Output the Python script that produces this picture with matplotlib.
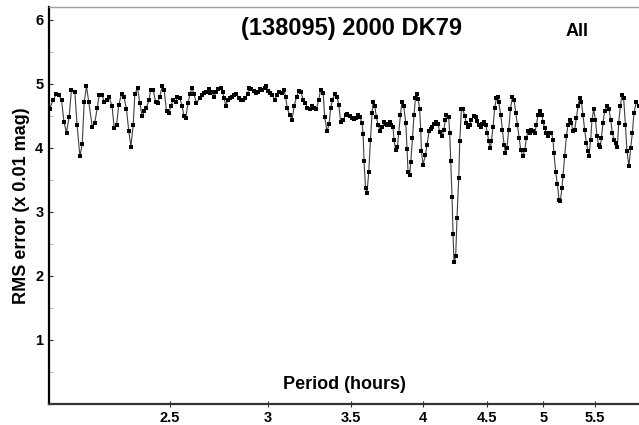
import numpy as np
import matplotlib.pyplot as plt
from matplotlib.ticker import FixedLocator, NullLocator, MultipleLocator

plt.rcParams['font.family'] = ['Liberation Sans', 'DejaVu Sans']
plt.rcParams['font.weight'] = 'bold'

# Period (hours) vs RMS error (x 0.01 mag)
period = [
    2.001, 2.013, 2.026, 2.035, 2.045, 2.054, 2.064, 2.074, 2.083, 2.096,
    2.105, 2.116, 2.125, 2.133, 2.142, 2.151, 2.165, 2.175, 2.185, 2.193,
    2.205, 2.213, 2.226, 2.234, 2.246, 2.255, 2.265, 2.274, 2.286, 2.297,
    2.307, 2.317, 2.326, 2.336, 2.343, 2.355, 2.365, 2.375, 2.384, 2.394,
    2.405, 2.413, 2.424, 2.435, 2.444, 2.454, 2.465, 2.474, 2.485, 2.495,
    2.505, 2.515, 2.527, 2.536, 2.547, 2.558, 2.567, 2.575, 2.586, 2.595,
    2.606, 2.614, 2.627, 2.643, 2.654, 2.664, 2.676, 2.688, 2.696, 2.704,
    2.714, 2.723, 2.734, 2.747, 2.757, 2.765, 2.774, 2.783, 2.794, 2.806,
    2.817, 2.829, 2.842, 2.852, 2.864, 2.877, 2.888, 2.896, 2.909, 2.922,
    2.933, 2.945, 2.958, 2.969, 2.982, 2.991, 3.000, 3.010, 3.025, 3.038,
    3.051, 3.062, 3.076, 3.089, 3.100, 3.108, 3.123, 3.137, 3.149, 3.163,
    3.176, 3.188, 3.202, 3.216, 3.228, 3.242, 3.255, 3.268, 3.282, 3.296,
    3.308, 3.323, 3.333, 3.347, 3.360, 3.370, 3.381, 3.396, 3.410, 3.421,
    3.433, 3.448, 3.466, 3.476, 3.491, 3.506, 3.519, 3.535, 3.545, 3.557,
    3.572, 3.579, 3.585, 3.595, 3.605, 3.617, 3.628, 3.639, 3.646, 3.657,
    3.669, 3.679, 3.696, 3.710, 3.721, 3.732, 3.744, 3.760, 3.772, 3.783,
    3.790, 3.802, 3.814, 3.823, 3.836, 3.847, 3.859, 3.874, 3.883, 3.890,
    3.902, 3.910, 3.922, 3.934, 3.944, 3.956, 3.963, 3.975, 3.983, 3.988,
    4.000, 4.018, 4.030, 4.045, 4.057, 4.070, 4.082, 4.101, 4.113, 4.126,
    4.143, 4.157, 4.170, 4.177, 4.195, 4.203, 4.211, 4.221, 4.229, 4.237,
    4.250, 4.260, 4.274, 4.282, 4.295, 4.308, 4.322, 4.335, 4.348, 4.362,
    4.376, 4.394, 4.411, 4.425, 4.438, 4.452, 4.466, 4.479, 4.493, 4.508,
    4.518, 4.533, 4.541, 4.555, 4.569, 4.583, 4.597, 4.603, 4.620, 4.635,
    4.649, 4.661, 4.674, 4.689, 4.704, 4.722, 4.736, 4.751, 4.765, 4.780,
    4.795, 4.815, 4.831, 4.846, 4.860, 4.875, 4.891, 4.905, 4.921, 4.937,
    4.951, 4.973, 4.988, 4.997, 5.013, 5.029, 5.044, 5.060, 5.076, 5.091,
    5.100, 5.116, 5.133, 5.148, 5.161, 5.177, 5.186, 5.203, 5.219, 5.235,
    5.251, 5.268, 5.283, 5.300, 5.317, 5.333, 5.349, 5.366, 5.382, 5.399,
    5.416, 5.432, 5.442, 5.460, 5.473, 5.490, 5.508, 5.524, 5.541, 5.559,
    5.569, 5.586, 5.603, 5.627, 5.648, 5.666, 5.684, 5.701, 5.726, 5.737,
    5.751, 5.769, 5.786, 5.804, 5.823, 5.840, 5.862, 5.880, 5.899, 5.916,
    5.943, 5.968,
]
rms = [
    4.61, 4.75, 4.84, 4.82, 4.75, 4.41, 4.24, 4.48, 4.91, 4.88,
    4.35, 3.87, 4.06, 4.72, 4.96, 4.72, 4.33, 4.39, 4.62, 4.83,
    4.83, 4.72, 4.74, 4.79, 4.65, 4.31, 4.35, 4.67, 4.84, 4.79,
    4.60, 4.26, 4.02, 4.36, 4.84, 4.93, 4.70, 4.49, 4.57, 4.63,
    4.74, 4.91, 4.91, 4.72, 4.70, 4.80, 4.96, 4.91, 4.57, 4.54,
    4.65, 4.74, 4.72, 4.79, 4.78, 4.65, 4.49, 4.47, 4.70, 4.84,
    4.93, 4.84, 4.70, 4.78, 4.82, 4.86, 4.88, 4.92, 4.86, 4.88,
    4.80, 4.87, 4.92, 4.93, 4.88, 4.78, 4.65, 4.75, 4.78, 4.80,
    4.83, 4.84, 4.78, 4.75, 4.74, 4.78, 4.84, 4.93, 4.92, 4.89,
    4.86, 4.88, 4.92, 4.91, 4.94, 4.96, 4.89, 4.86, 4.82, 4.75,
    4.83, 4.88, 4.86, 4.91, 4.80, 4.62, 4.52, 4.44, 4.65, 4.80,
    4.89, 4.88, 4.75, 4.70, 4.62, 4.60, 4.66, 4.62, 4.61, 4.75,
    4.91, 4.86, 4.48, 4.26, 4.37, 4.62, 4.75, 4.84, 4.80, 4.67,
    4.41, 4.44, 4.51, 4.53, 4.49, 4.47, 4.45, 4.47, 4.51, 4.48,
    4.39, 4.21, 3.80, 3.38, 3.30, 3.63, 4.13, 4.54, 4.72, 4.65,
    4.48, 4.36, 4.26, 4.33, 4.40, 4.37, 4.35, 4.41, 4.36, 4.32,
    4.13, 3.97, 4.02, 4.23, 4.52, 4.72, 4.65, 4.39, 3.99, 3.63,
    3.58, 3.78, 4.15, 4.52, 4.78, 4.84, 4.77, 4.60, 4.28, 3.95,
    3.74, 3.89, 4.05, 4.26, 4.30, 4.33, 4.37, 4.40, 4.37, 4.25,
    4.18, 4.28, 4.44, 4.51, 4.48, 4.23, 3.80, 3.24, 2.65, 2.21,
    2.31, 2.90, 3.53, 4.10, 4.60, 4.60, 4.49, 4.39, 4.33, 4.36,
    4.44, 4.49, 4.48, 4.42, 4.36, 4.33, 4.37, 4.41, 4.36, 4.23,
    4.10, 4.00, 4.10, 4.33, 4.62, 4.78, 4.80, 4.72, 4.52, 4.28,
    4.05, 3.92, 4.00, 4.28, 4.60, 4.80, 4.75, 4.55, 4.36, 4.16,
    3.97, 3.87, 3.97, 4.16, 4.26, 4.23, 4.28, 4.26, 4.23, 4.36,
    4.52, 4.57, 4.52, 4.41, 4.31, 4.23, 4.18, 4.23, 4.23, 4.13,
    3.92, 3.63, 3.43, 3.19, 3.17, 3.38, 3.56, 3.87, 4.18, 4.36,
    4.44, 4.39, 4.26, 4.28, 4.47, 4.65, 4.78, 4.72, 4.52, 4.28,
    4.08, 3.95, 3.87, 4.13, 4.44, 4.60, 4.44, 4.18, 4.05, 4.02,
    4.15, 4.39, 4.57, 4.66, 4.61, 4.44, 4.23, 4.13, 4.08, 4.02,
    4.39, 4.65, 4.83, 4.78, 4.36, 3.95, 3.71, 4.00, 4.23, 4.54,
    4.72, 4.65,
]

xticks = [2.5, 3, 3.5, 4, 4.5, 5, 5.5]
xtick_labels = ['2.5', '3', '3.5', '4', '4.5', '5', '5.5']
yticks = [1, 2, 3, 4, 5, 6]

fig = plt.figure(figsize=(6.39, 4.25), dpi=100)
ax = fig.add_axes([49 / 639, 21 / 425, 590 / 639, 397 / 425])

ax.plot(period, rms, color='#404040', lw=0.8, marker='s', markersize=2.3,
        markerfacecolor='black', markeredgecolor='black', markeredgewidth=0)

ax.set_xscale('log')
ax.set_xlim(1.998, 5.972)
ax.set_ylim(0, 6.2)

ax.xaxis.set_major_locator(FixedLocator(xticks))
ax.xaxis.set_minor_locator(NullLocator())
ax.set_xticklabels(xtick_labels)
ax.set_yticks(yticks)
ax.yaxis.set_minor_locator(MultipleLocator(0.5))

ax.tick_params(axis='x', which='major', direction='inout', length=4, width=0.8,
               color='#333333', labelsize=10.5, pad=3)
ax.tick_params(axis='y', which='major', direction='in', length=3, width=0.8,
               color='#333333', labelsize=10.5, pad=4)
ax.tick_params(axis='y', which='minor', direction='in', length=3, width=0.6,
               color='#aaaaaa')
for lab in ax.get_xticklabels() + ax.get_yticklabels():
    lab.set_fontweight('bold')

ax.spines['left'].set_linewidth(1.6)
ax.spines['left'].set_color('black')
ax.spines['bottom'].set_linewidth(1.6)
ax.spines['bottom'].set_color('#333333')
ax.spines['top'].set_linewidth(1.0)
ax.spines['top'].set_color('#a0a0a0')
ax.spines['right'].set_visible(False)

ax.set_xlabel('Period (hours)', fontsize=13, fontweight='bold')
ax.xaxis.set_label_coords(0.5, 0.048)
ax.xaxis.label.set_va('center')
ax.set_ylabel('RMS error (x 0.01 mag)', fontsize=13, fontweight='bold')
ax.yaxis.set_label_coords(-0.046, 0.5)
ax.yaxis.label.set_va('center')

fig.text(351 / 639, 1 - 29 / 425, '(138095) 2000 DK79', fontsize=17,
         fontweight='bold', ha='center', va='center')
fig.text(577 / 639, 1 - 31 / 425, 'All', fontsize=13, fontweight='bold',
         ha='center', va='center')

fig.savefig('out.png', dpi=100)
